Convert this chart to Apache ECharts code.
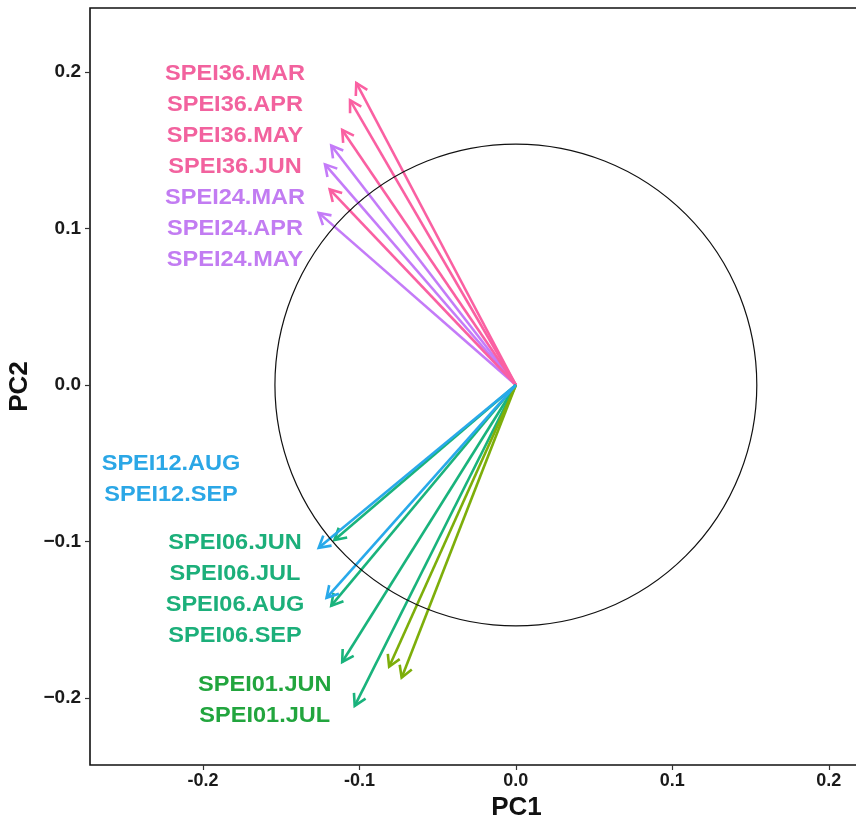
<!DOCTYPE html>
<html>
<head>
<meta charset="utf-8">
<script src="https://cdn.jsdelivr.net/npm/echarts@6/dist/echarts.min.js"></script>
<style>
  html, body { margin: 0; padding: 0; background: #ffffff; }
  #chart { width: 856px; height: 818px; }
</style>
</head>
<body>
<div id="chart"></div>
<script>
// Loadings of the SPEI drought indices on the first two principal components
// (drawn in this order, so later arrows sit on top)
const variables = [
  'SPEI24.MAR', 'SPEI24.APR', 'SPEI24.MAY',
  'SPEI36.MAR', 'SPEI36.APR', 'SPEI36.MAY', 'SPEI36.JUN',
  'SPEI06.JUN', 'SPEI06.JUL', 'SPEI06.AUG', 'SPEI06.SEP',
  'SPEI01.JUN', 'SPEI01.JUL',
  'SPEI12.AUG', 'SPEI12.SEP'
];
const pc1 = [
  -0.118, -0.122, -0.126,
  -0.102, -0.106, -0.111, -0.119,
  -0.116, -0.118, -0.111, -0.103,
  -0.081, -0.073,
  -0.126, -0.121
];
const pc2 = [
  0.153, 0.141, 0.110,
  0.193, 0.182, 0.163, 0.125,
  -0.099, -0.141, -0.177, -0.205,
  -0.180, -0.187,
  -0.104, -0.136
];

// Label lists, in reading order
const labelListTop = ['SPEI36.MAR', 'SPEI36.APR', 'SPEI36.MAY', 'SPEI36.JUN', 'SPEI24.MAR', 'SPEI24.APR', 'SPEI24.MAY'];
const labelListSpei12 = ['SPEI12.AUG', 'SPEI12.SEP'];
const labelListSpei06 = ['SPEI06.JUN', 'SPEI06.JUL', 'SPEI06.AUG', 'SPEI06.SEP'];
const labelListSpei01 = ['SPEI01.JUN', 'SPEI01.JUL'];

// Correlation circle radius
const circleRadius = 0.154;

// Axis tick values
const xTicks = [-0.2, -0.1, 0.0, 0.1, 0.2];
const yTicks = [-0.2, -0.1, 0.0, 0.1, 0.2];

// Colours per time scale
const arrowColors = { SPEI36: '#FA60A2', SPEI24: '#C47BF8', SPEI12: '#28A9EA', SPEI06: '#19B37C', SPEI01: '#7DAE0A' };
const labelColors = { SPEI36: '#F2629E', SPEI24: '#C27CF2', SPEI12: '#2BA7E6', SPEI06: '#1CAF7A', SPEI01: '#22A53E' };

// Where each label list is anchored (centre of the first line), and line spacing, in axis units
const labelBlocks = [
  { names: labelListTop,   x: -0.1795, y: 0.1987 },
  { names: labelListSpei12, x: -0.2204, y: -0.0505 },
  { names: labelListSpei06, x: -0.1795, y: -0.1010 },
  { names: labelListSpei01, x: -0.1605, y: -0.1917 }
];
const labelStep = 0.0198;

const FONT = "'Liberation Sans', Arial, Helvetica, sans-serif";
const groupOf = name => name.split('.')[0];

const labelData = [];
labelBlocks.forEach(b => {
  b.names.forEach((n, i) => labelData.push({ value: [b.x, b.y - i * labelStep], name: n }));
});

const chart = echarts.init(document.getElementById('chart'), null, { renderer: 'canvas' });

function renderArrow(params, api) {
  const o = api.coord([0, 0]);
  const t = api.coord([api.value(0), api.value(1)]);
  const ang = Math.atan2(t[1] - o[1], t[0] - o[0]);
  const L = 13, a = Math.PI / 6;
  const w1 = [t[0] - L * Math.cos(ang - a), t[1] - L * Math.sin(ang - a)];
  const w2 = [t[0] - L * Math.cos(ang + a), t[1] - L * Math.sin(ang + a)];
  const color = arrowColors[groupOf(variables[params.dataIndex])];
  return {
    type: 'group',
    children: [
      { type: 'line', shape: { x1: o[0], y1: o[1], x2: t[0], y2: t[1] },
        style: { stroke: color, lineWidth: 2.6 } },
      { type: 'polyline', shape: { points: [w1, t, w2] },
        style: { stroke: color, lineWidth: 2.6, fill: null, lineJoin: 'miter' } }
    ]
  };
}

function renderCircle(params, api) {
  const c = api.coord([api.value(0), api.value(1)]);
  const r = api.size([api.value(2), 0])[0];
  return {
    type: 'circle',
    shape: { cx: c[0], cy: c[1], r: r },
    style: { stroke: '#111111', lineWidth: 1.2, fill: null }
  };
}

function renderLabel(params, api) {
  const p = api.coord([api.value(0), api.value(1)]);
  const name = labelData[params.dataIndex].name;
  return {
    type: 'text',
    x: p[0], y: p[1],
    scaleX: 1.07,
    style: {
      x: 0, y: 0,
      text: name,
      fill: labelColors[groupOf(name)],
      font: 'bold 22px ' + FONT,
      align: 'center',
      verticalAlign: 'middle'
    }
  };
}

const option = {
  backgroundColor: '#ffffff',
  animation: false,
  grid: {
    left: 90, top: 8, width: 817, height: 757,
    show: true, borderColor: '#111111', borderWidth: 1.6,
    outerBoundsMode: 'none',
    containLabel: false
  },
  xAxis: {
    type: 'value',
    min: -0.2722, max: 0.25,
    name: 'PC1', nameLocation: 'middle', nameGap: 21,
    nameTextStyle: {
      fontFamily: FONT, fontWeight: 'bold', fontSize: 26, color: '#111111',
      padding: [0, 0, 0, 36]
    },
    axisLine: { show: false, onZero: false },
    splitLine: { show: false },
    axisTick: { show: true, length: 5, customValues: xTicks, lineStyle: { color: '#333333', width: 1.2 } },
    axisLabel: {
      customValues: xTicks, margin: 7,
      fontFamily: FONT, fontWeight: 'bold', fontSize: 18, color: '#1a1a1a',
      formatter: v => v.toFixed(1)
    }
  },
  yAxis: {
    type: 'value',
    min: -0.2428, max: 0.2409,
    name: 'PC2', nameLocation: 'middle', nameGap: 52, nameRotate: 90,
    nameTextStyle: { fontFamily: FONT, fontWeight: 'bold', fontSize: 26, color: '#111111' },
    axisLine: { show: false, onZero: false },
    splitLine: { show: false },
    axisTick: { show: true, length: 5, customValues: yTicks, lineStyle: { color: '#333333', width: 1.2 } },
    axisLabel: {
      customValues: yTicks, margin: 9,
      fontFamily: FONT, fontWeight: 'bold', fontSize: 19, color: '#1a1a1a',
      formatter: v => v.toFixed(1).replace('-', '\u2212')
    }
  },
  series: [
    {
      type: 'custom', name: 'loadings', clip: false,
      renderItem: renderArrow,
      data: pc1.map((x, i) => [x, pc2[i]]),
      silent: true
    },
    {
      type: 'custom', name: 'circle', clip: false,
      renderItem: renderCircle,
      data: [[0, 0, circleRadius]],
      silent: true
    },
    {
      type: 'custom', name: 'labels', clip: false,
      renderItem: renderLabel,
      data: labelData.map(d => d.value),
      silent: true
    }
  ]
};

chart.setOption(option);
</script>
</body>
</html>
